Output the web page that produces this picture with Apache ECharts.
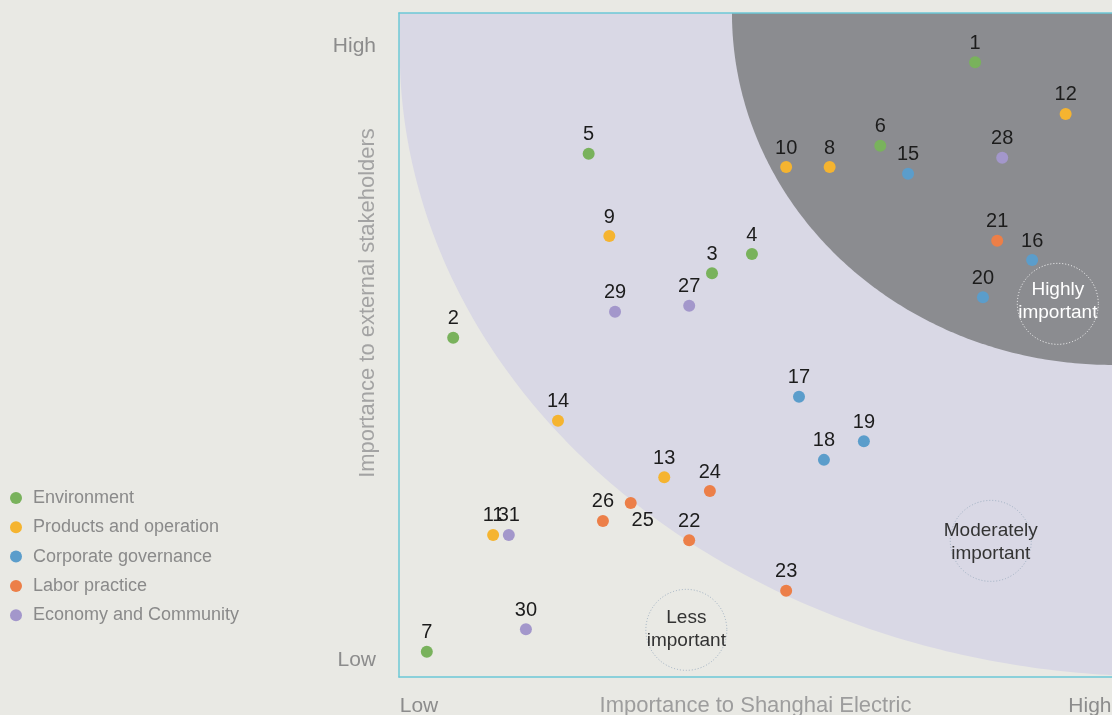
<!DOCTYPE html>
<html><head><meta charset="utf-8">
<script src="https://cdn.jsdelivr.net/npm/echarts@6/dist/echarts.min.js"></script>
<style>html,body{margin:0;padding:0;background:#e9e9e4;}#c{width:1112px;height:715px;}</style>
</head><body><div id="c"></div>
<script>
// ---- data (issue id, importance to Shanghai Electric, importance to external stakeholders) ----
const categories = ['Environment', 'Products and operation', 'Corporate governance', 'Labor practice', 'Economy and Community'];
const environment = [[1, 80.8, 92.6], [2, 7.6, 51.1], [3, 43.9, 60.8], [4, 49.5, 63.7], [5, 26.6, 78.8], [6, 67.5, 80.0], [7, 3.9, 3.8]];
const products = [[8, 60.4, 76.8], [9, 29.5, 66.4], [10, 54.3, 76.8], [11, 13.2, 21.4], [12, 93.5, 84.8], [13, 37.2, 30.1], [14, 22.3, 38.6]];
const governance = [[15, 71.4, 75.8], [16, 88.8, 62.8], [17, 56.1, 42.2], [18, 59.6, 32.7], [19, 65.2, 35.5], [20, 81.9, 57.2]];
const labor = [[21, 83.9, 65.7], [22, 40.7, 20.6], [23, 54.3, 13.0], [24, 43.6, 28.0], [25, 32.5, 26.2], [26, 28.6, 23.5]];
const community = [[27, 40.7, 55.9], [28, 84.6, 78.2], [29, 30.3, 55.0], [30, 17.8, 7.2], [31, 15.4, 21.4]];
const xTickValues = [2.8, 96.9];
const xTickLabels = ['Low', 'High'];
const yTickValues = [2.6, 95.0];
const yTickLabels = ['Low', 'High'];
const regionLabels = ['Highly\nimportant', 'Moderately\nimportant', 'Less\nimportant'];

// ---- styling ----
const FONT = '"Liberation Sans", Arial, sans-serif';
const colors = ['#79b25c', '#f5b430', '#5b9dcb', '#ec7f48', '#a397cb'];
const cyan = '#6cc8d6';
const groups = [environment, products, governance, labor, community];

function tickFmt(values, labels) {
  return function (v) {
    let best = 0;
    for (let i = 1; i < values.length; i++) if (Math.abs(values[i] - v) < Math.abs(values[best] - v)) best = i;
    return labels[best];
  };
}

const regionConf = [
  { at: [92.4, 56.2], dy: -3, stroke: '#ffffff', fill: '#ffffff' },
  { at: [83.0, 20.5], dy: 1.5, stroke: '#9fb0c2', fill: '#333333' },
  { at: [40.3, 7.1], dy: -1, stroke: '#9fb0c2', fill: '#333333' }
];

function ellipsePts(api, cx, cy, rx, ry) {
  const pts = [];
  const n = 160;
  for (let k = 0; k <= n; k++) {
    const t = Math.PI + k / n * Math.PI / 2;
    let x = cx + rx * Math.cos(t), y = cy + ry * Math.sin(t);
    x = Math.min(100, Math.max(0, x));
    y = Math.min(100, Math.max(0, y));
    pts.push(api.coord([x, y]));
  }
  return pts;
}

const regionSeries = {
  type: 'custom',
  silent: true,
  z: 1,
  data: [[0, 0]],
  renderItem: function (params, api) {
    const lav = [api.coord([0, 100]), api.coord([0, 94.4])].concat(ellipsePts(api, 106.7, 94.4, 106.6, 94.3));
    lav.push(api.coord([100, 100]));
    const dark = ellipsePts(api, 100, 100, 53.3, 53.0);
    dark.push(api.coord([100, 100]));
    const children = [
      { type: 'polygon', shape: { points: lav }, style: { fill: '#d9d8e5' } },
      { type: 'polygon', shape: { points: dark }, style: { fill: '#8b8c90' } }
    ];
    regionConf.forEach(function (r, i) {
      const c = api.coord(r.at);
      children.push({ type: 'circle', shape: { cx: c[0], cy: c[1], r: 40.5 },
        style: { fill: 'none', stroke: r.stroke, lineWidth: 1, lineDash: [1, 2] } });
      children.push({ type: 'text', style: { text: regionLabels[i], x: c[0], y: c[1] + r.dy,
        align: 'center', verticalAlign: 'middle', fill: r.fill, fontSize: 19, fontFamily: FONT, lineHeight: 23 } });
    });
    return { type: 'group', children: children };
  }
};

const scatterSeries = groups.map(function (g, i) {
  return {
    type: 'scatter',
    name: categories[i],
    z: 3,
    symbolSize: 12,
    itemStyle: { color: colors[i], opacity: 1 },
    label: { show: true, position: 'top', distance: 3, formatter: function (p) { return p.name; },
      color: '#1c1c1c', fontSize: 20, fontFamily: FONT },
    emphasis: { disabled: true },
    data: g.map(function (p) {
      const d = { name: String(p[0]), value: [p[1], p[2]] };
      if (p[0] === 25) d.label = { position: 'inside', offset: [12, 17.5] };
      return d;
    })
  };
});

const option = {
  backgroundColor: '#e9e9e4',
  animation: false,
  textStyle: { fontFamily: FONT },
  grid: { left: 399, right: 0, top: 13, bottom: 38, containLabel: false, outerBoundsMode: 'none' },
  legend: {
    orient: 'vertical', left: 5, top: 484, itemWidth: 12, itemHeight: 12, itemGap: 11.3, icon: 'circle',
    selectedMode: false,
    textStyle: { color: '#8a8a8a', fontSize: 18, fontFamily: FONT, padding: [0, 0, 0, 6] },
    data: categories
  },
  xAxis: [{
    type: 'value', min: 0, max: 100, position: 'bottom', z: 5,
    axisLine: { show: true, onZero: false, lineStyle: { color: cyan, width: 1.5 } },
    axisTick: { show: false }, splitLine: { show: false },
    axisLabel: { customValues: xTickValues, formatter: tickFmt(xTickValues, xTickLabels), color: '#8c8c8c', fontSize: 21, margin: 19, fontFamily: FONT },
    name: 'Importance to Shanghai Electric', nameLocation: 'middle', nameGap: 18, nameMoveOverlap: false,
    nameTextStyle: { color: '#9d9d9d', fontSize: 22, fontFamily: FONT }
  }, {
    type: 'value', min: 0, max: 100, position: 'top', z: 5,
    axisLine: { show: true, onZero: false, lineStyle: { color: cyan, width: 1.5 } },
    axisTick: { show: false }, splitLine: { show: false }, axisLabel: { show: false }
  }],
  yAxis: {
    type: 'value', min: 0, max: 100, z: 5,
    axisLine: { show: true, onZero: false, lineStyle: { color: cyan, width: 1.5 } },
    axisTick: { show: false }, splitLine: { show: false },
    axisLabel: { customValues: yTickValues, formatter: tickFmt(yTickValues, yTickLabels), color: '#8c8c8c', fontSize: 21, margin: 23, fontFamily: FONT },
    name: 'Importance to external stakeholders', nameLocation: 'middle', nameGap: 20, nameMoveOverlap: false,
    nameTextStyle: { color: '#a3a3a3', fontSize: 22, fontFamily: FONT, padding: [0, 0, 0, 84] }
  },
  series: [regionSeries].concat(scatterSeries)
};

const chart = echarts.init(document.getElementById('c'), null, { renderer: 'canvas' });
chart.setOption(option);
</script>
</body></html>
